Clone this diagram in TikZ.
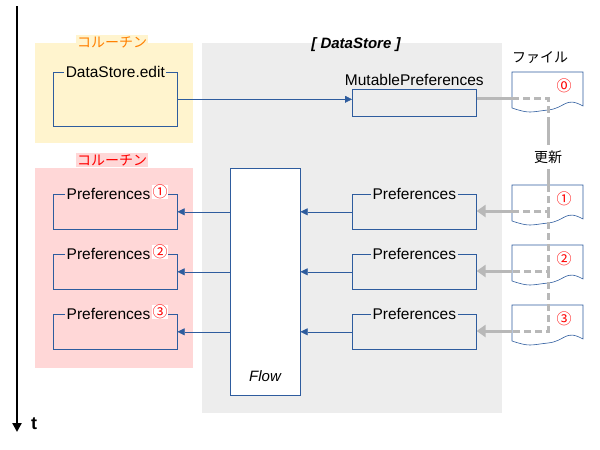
\documentclass[tikz,border=0pt]{standalone}
\usepackage{fontspec}
\setmainfont{Liberation Sans}
\newfontfamily\jp{Noto Sans CJK JP}
\usetikzlibrary{arrows.meta,positioning}
\definecolor{flowblue}{HTML}{2E5C9E}
\definecolor{storegray}{HTML}{EDEDED}
\definecolor{pathgray}{HTML}{B8B8B8}
\definecolor{coyellow}{HTML}{FFF4CE}
\definecolor{copink}{HTML}{FFD7D7}
\tikzset{
  box/.style={draw=flowblue, semithick, anchor=north west, minimum width=124pt, minimum height=35pt, inner sep=0pt},
  title/.style={font=\fontsize{15.5}{16}\selectfont, inner sep=1.5pt},
  jtitle/.style={font=\jp\fontsize{14}{16}\selectfont, inner sep=1pt},
  num/.style={text=red, font=\jp\fontsize{15}{16}\selectfont, inner sep=0.5pt},
  link/.style={draw=flowblue, -{Triangle[length=7pt,width=7pt]}},
  upd/.style={draw=pathgray, line width=3pt},
  updd/.style={upd, dash pattern=on 7pt off 4pt},
}
\newcommand{\filedoc}[3]{% name, x, y
  \filldraw[fill=white, draw=flowblue, semithick] (#2,#3) -- ++(71,0) -- ++(0,34)
    .. controls ++(-18,-10) and ++(18,-2) .. ++(-35,4)
    .. controls ++(-18,2) and ++(18,6) .. ++(-36,-2) -- cycle;
  \coordinate (#1) at (#2,#3);
}
\begin{document}
\begin{tikzpicture}[x=1pt, y=-1pt]
  \useasboundingbox (0,0) rectangle (600,450);

  % time axis
  \draw[line width=2.5pt, -{Triangle[length=9pt,width=9pt]}] (17,6) -- (17,432);
  \node[font=\bfseries\fontsize{18}{18}\selectfont] (t) at (34,424) {t};

  % backgrounds
  \fill[coyellow] (35,43) rectangle (193,143);
  \fill[copink] (35,168) rectangle (193,368);
  \fill[storegray] (202,43) rectangle (502,413);
  \node[jtitle, fill=coyellow, text=orange] (co1) at (112,42) {コルーチン};
  \node[jtitle, fill=copink, text=red] (co2) at (112,160) {コルーチン};
  \node[title, font=\bfseries\itshape\fontsize{15}{16}\selectfont] (ds) at (356,45) {[ DataStore ]};

  % coroutine boxes
  \node[box, minimum height=54pt] (edit) at (53,72) {};
  \node[title, fill=coyellow] at (edit.north) {DataStore.edit};
  \foreach \i/\n/\y in {1/①/194, 2/②/254, 3/③/314} {
    \node[box] (cp\i) at (53,\y) {};
    \node[title, fill=copink, anchor=west] (cpt\i) at ([xshift=12pt]cp\i.north west) {Preferences};
    \node[num, fill=white, right=0pt of cpt\i, yshift=2pt] {\n};
  }

  % DataStore side
  \node[box, fill=white, minimum width=70pt, minimum height=227pt] (flow) at (230,168) {};
  \node[font=\itshape\fontsize{15}{16}\selectfont] at (265,376) {Flow};
  \node[box, minimum height=27pt] (mut) at (352,89) {};
  \node[title, fill=storegray, yshift=9pt] at (mut.north) {MutablePreferences};
  \foreach \i/\y in {1/194, 2/254, 3/314} {
    \node[box] (sp\i) at (352,\y) {};
    \node[title, fill=storegray] at (sp\i.north) {Preferences};
    \draw[link] (sp\i.west) -- (sp\i.west -| flow.east);
    \draw[link] (cp\i.east -| flow.west) -- (cp\i.east);
  }
  \draw[link] (edit.east) -- (edit.east -| mut.west);

  % files
  \node[jtitle] (ftitle) at (540,58) {ファイル};
  \filedoc{f0}{512}{72}
  \filedoc{f1}{512}{185}
  \filedoc{f2}{512}{245}
  \filedoc{f3}{512}{305}
  \foreach \n/\y in {⓪/86, ①/199, ②/259, ③/319}
    \node[num] at (564,\y) {\n};

  % update path
  \draw[upd] (mut.east |- 0,98) -- (512,98);
  \draw[updd] (512,98) -- (548,98) -- (548,120);
  \draw[upd] (548,120) -- (548,145);
  \node[jtitle] (upd) at (548,157) {更新};
  \draw[upd] (548,169) -- (548,185);
  \draw[updd] (548,185) -- (548,211) -- (512,211);
  \draw[updd] (548,211) -- (548,271) -- (512,271);
  \draw[updd] (548,271) -- (548,331) -- (512,331);
  \foreach \i/\y in {1/211, 2/271, 3/331}
    \draw[upd, -{Triangle[length=9pt,width=12pt]}] (512,\y) -- (sp\i.east |- 0,\y);
\end{tikzpicture}
\end{document}
